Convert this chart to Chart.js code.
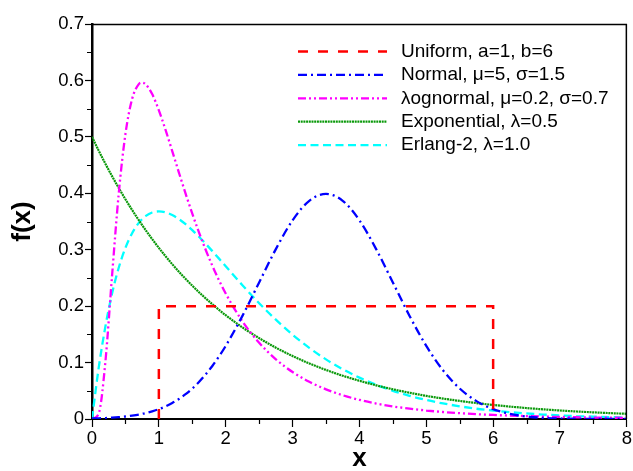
<!DOCTYPE html>
<html>
<head>
<meta charset="utf-8">
<script src="https://cdn.jsdelivr.net/npm/chart.js@4.4.1/dist/chart.umd.min.js"></script>
<style>
  html, body { margin: 0; padding: 0; background: #ffffff; }
  canvas { display: block; }
</style>
</head>
<body>
<canvas id="pdfChart" width="633" height="471"></canvas>
<script>
// Sample positions along x shared by the smooth curves
const xGrid = [0, 0.1, 0.2, 0.3, 0.4, 0.5, 0.6, 0.7, 0.75, 0.8, 0.9, 1.0, 1.1, 1.2, 1.3, 1.4, 1.5, 1.6, 1.7, 1.8, 1.9, 2.0,
               2.25, 2.5, 2.75, 3.0, 3.25, 3.5, 3.75, 4.0, 4.25, 4.5, 4.75, 5.0, 5.25, 5.5, 5.75, 6.0,
               6.25, 6.5, 6.75, 7.0, 7.25, 7.5, 7.75, 8.0];

// Uniform density: a step between x = 1 and x = 6
const uniformX = [1, 1, 6, 6];
const uniformY = [0, 0.2, 0.2, 0];

const normalY = [0.0009, 0.0012, 0.0017, 0.0024, 0.0033, 0.0044, 0.0060, 0.0079, 0.0091, 0.0104, 0.0136, 0.0175, 0.0224,
                 0.0283, 0.0355, 0.0440, 0.0540, 0.0656, 0.0790, 0.0940, 0.1109, 0.1295,
                 0.1827, 0.2420, 0.3011, 0.3521, 0.3867, 0.3989, 0.3867, 0.3521, 0.3011, 0.2420, 0.1827, 0.1295,
                 0.0863, 0.0540, 0.0317, 0.0175, 0.0091, 0.0044, 0.0020, 0.0009, 0.0004, 0.0001, 0.0001, 0.0000];

const lognormalY = [0, 0.0096, 0.1009, 0.2542, 0.3995, 0.5050, 0.5672, 0.5934, 0.5961, 0.5934, 0.5758, 0.5471, 0.5124,
                    0.4748, 0.4367, 0.3994, 0.3639, 0.3307, 0.2999, 0.2716, 0.2458, 0.2223,
                    0.1731, 0.1351, 0.1058, 0.0833, 0.0660, 0.0526, 0.0421, 0.0339, 0.0274, 0.0223, 0.0183, 0.0150,
                    0.0124, 0.0103, 0.0086, 0.0072, 0.0060, 0.0051, 0.0043, 0.0036, 0.0031, 0.0026, 0.0023, 0.0019];

const exponentialY = [0.5000, 0.4756, 0.4524, 0.4304, 0.4094, 0.3894, 0.3704, 0.3523, 0.3436, 0.3352, 0.3188, 0.3033, 0.2885,
                      0.2744, 0.2611, 0.2483, 0.2362, 0.2247, 0.2138, 0.2033, 0.1934, 0.1839,
                      0.1623, 0.1433, 0.1264, 0.1116, 0.0985, 0.0869, 0.0767, 0.0677, 0.0597, 0.0527, 0.0465, 0.0410,
                      0.0362, 0.0320, 0.0282, 0.0249, 0.0220, 0.0194, 0.0171, 0.0151, 0.0133, 0.0118, 0.0104, 0.0092];

const erlangY = [0, 0.0905, 0.1637, 0.2222, 0.2681, 0.3033, 0.3293, 0.3476, 0.3543, 0.3595, 0.3659, 0.3679, 0.3662,
                 0.3614, 0.3543, 0.3452, 0.3347, 0.3230, 0.3106, 0.2975, 0.2842, 0.2707,
                 0.2371, 0.2052, 0.1760, 0.1494, 0.1260, 0.1057, 0.0882, 0.0733, 0.0606, 0.0500, 0.0411, 0.0337,
                 0.0276, 0.0225, 0.0182, 0.0149, 0.0121, 0.0098, 0.0079, 0.0064, 0.0052, 0.0042, 0.0033, 0.0027];

const seriesLabels = [
  'Uniform, a=1, b=6',
  'Normal, \u03BC=5, \u03C3=1.5',
  '\u03BBognormal, \u03BC=0.2, \u03C3=0.7',
  'Exponential, \u03BB=0.5',
  'Erlang-2, \u03BB=1.0'
];

const xTickValues = [0, 1, 2, 3, 4, 5, 6, 7, 8];
const xTickLabels = ['0', '1', '2', '3', '4', '5', '6', '7', '8'];
const xMinorTicks = [0.5, 1.5, 2.5, 3.5, 4.5, 5.5, 6.5, 7.5];
const yTickValues = [0, 0.1, 0.2, 0.3, 0.4, 0.5, 0.6, 0.7];
const yTickLabels = ['0', '0.1', '0.2', '0.3', '0.4', '0.5', '0.6', '0.7'];
const yMinorTicks = [0.05, 0.15, 0.25, 0.35, 0.45, 0.55, 0.65];

const FONT = "'Liberation Sans', Arial, Helvetica, sans-serif";

function points(xs, ys) {
  return xs.map((x, i) => ({ x: x, y: ys[i] }));
}

// Frame on the top/right sides plus the short minor ticks
const axisDecor = {
  id: 'axisDecor',
  afterDraw(chart) {
    const { ctx, chartArea: a, scales: { x, y } } = chart;
    ctx.save();
    ctx.strokeStyle = '#000';
    ctx.lineWidth = 1.5;
    ctx.beginPath();
    ctx.moveTo(a.left, a.top + 0.5);
    ctx.lineTo(a.right - 0.5, a.top + 0.5);
    ctx.lineTo(a.right - 0.5, a.bottom);
    ctx.stroke();
    ctx.lineWidth = 1.2;
    ctx.beginPath();
    xMinorTicks.forEach(v => {
      const px = Math.round(x.getPixelForValue(v)) + 0.5;
      ctx.moveTo(px, a.bottom);
      ctx.lineTo(px, a.bottom + 5);
    });
    yMinorTicks.forEach(v => {
      const py = Math.round(y.getPixelForValue(v)) + 0.5;
      ctx.moveTo(a.left, py);
      ctx.lineTo(a.left - 5, py);
    });
    ctx.stroke();
    ctx.restore();
  }
};

// Legend box placed inside the plot, upper right
const insideLegend = {
  id: 'insideLegend',
  afterDraw(chart) {
    const ctx = chart.ctx;
    const lineStart = 298, lineEnd = 387, textX = 401, firstRow = 51.5, rowGap = 23.4;
    ctx.save();
    chart.data.datasets.forEach((ds, i) => {
      const yRow = firstRow + i * rowGap;
      ctx.strokeStyle = ds.borderColor;
      ctx.lineWidth = ds.borderWidth;
      ctx.setLineDash(ds.borderDash || []);
      ctx.beginPath();
      ctx.moveTo(lineStart, yRow);
      ctx.lineTo(lineEnd, yRow);
      ctx.stroke();
      ctx.setLineDash([]);
      ctx.fillStyle = '#000';
      ctx.font = '19px ' + FONT;
      ctx.textAlign = 'left';
      ctx.textBaseline = 'middle';
      ctx.fillText(ds.label, textX, yRow);
    });
    ctx.restore();
  }
};

const curveCommon = { pointRadius: 0, fill: false, cubicInterpolationMode: 'monotone' };

new Chart(document.getElementById('pdfChart'), {
  type: 'line',
  data: {
    datasets: [
      { label: seriesLabels[0], data: points(uniformX, uniformY), borderColor: '#ff0000', borderWidth: 2.5,
        borderDash: [10, 10], pointRadius: 0, fill: false, tension: 0 },
      Object.assign({ label: seriesLabels[1], data: points(xGrid, normalY), borderColor: '#0000ff', borderWidth: 2.3,
        borderDash: [9, 4, 2, 4] }, curveCommon),
      Object.assign({ label: seriesLabels[2], data: points(xGrid, lognormalY), borderColor: '#ff00ff', borderWidth: 2.3,
        borderDash: [8, 3, 2, 3, 2, 3] }, curveCommon),
      Object.assign({ label: seriesLabels[3], data: points(xGrid, exponentialY), borderColor: '#0a990a', borderWidth: 2.2,
        borderDash: [2, 0.7] }, curveCommon),
      Object.assign({ label: seriesLabels[4], data: points(xGrid, erlangY), borderColor: '#00ffff', borderWidth: 2.3,
        borderDash: [8, 4.5] }, curveCommon)
    ]
  },
  options: {
    responsive: false,
    devicePixelRatio: 1,
    animation: false,
    layout: { padding: { top: 24, right: 5, left: 0, bottom: 0 } },
    plugins: { legend: { display: false }, tooltip: { enabled: false } },
    scales: {
      x: {
        type: 'linear', min: 0, max: 8,
        afterBuildTicks: s => { s.ticks = xTickValues.map(v => ({ value: v })); },
        afterFit: s => { s.height = 52; },
        ticks: {
          autoSkip: false, maxRotation: 0, color: '#000', padding: 1,
          font: { family: FONT, size: 18.5 },
          callback: v => xTickLabels[xTickValues.indexOf(v)]
        },
        grid: { display: true, drawOnChartArea: false, drawTicks: true, tickLength: 8, tickWidth: 1.2, tickColor: '#000' },
        border: { display: true, color: '#000', width: 2 },
        title: { display: true, text: 'x', color: '#000', padding: { top: 0, bottom: 0 },
                 font: { family: FONT, size: 26, weight: 'bold', lineHeight: 0.9 } }
      },
      y: {
        type: 'linear', min: 0, max: 0.7,
        afterBuildTicks: s => { s.ticks = yTickValues.map(v => ({ value: v })); },
        afterFit: s => { s.width = 92; },
        ticks: {
          autoSkip: false, color: '#000', padding: 1,
          font: { family: FONT, size: 18.5 },
          callback: v => yTickLabels[yTickValues.findIndex(t => Math.abs(t - v) < 1e-9)]
        },
        grid: { display: true, drawOnChartArea: false, drawTicks: true, tickLength: 7, tickWidth: 1.2, tickColor: '#000' },
        border: { display: true, color: '#000', width: 2.5 },
        title: { display: true, text: 'f(x)', color: '#000', padding: { top: 7.5, bottom: 0 },
                 font: { family: FONT, size: 26, weight: 'bold', lineHeight: 1.2 } }
      }
    }
  },
  plugins: [axisDecor, insideLegend]
});
</script>
</body>
</html>
